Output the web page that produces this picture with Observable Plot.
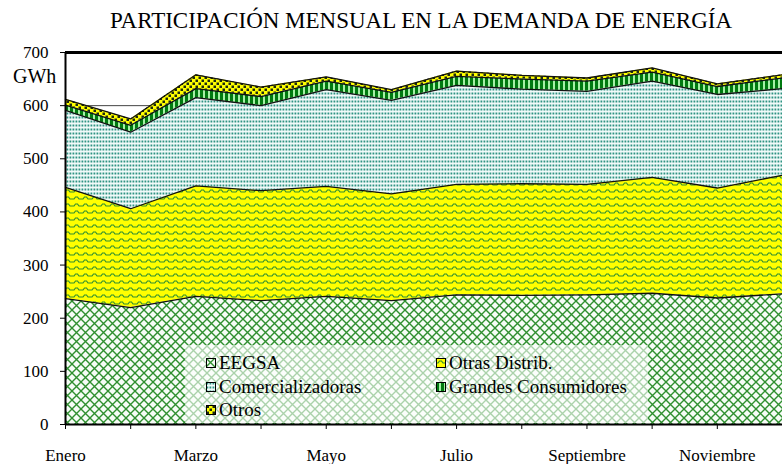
<!DOCTYPE html>
<html><head><meta charset="utf-8">
<script src="https://cdn.jsdelivr.net/npm/d3@7"></script>
<script src="https://cdn.jsdelivr.net/npm/@observablehq/plot@0.6"></script>
<style>
body{margin:0;background:#fff;font-family:"Liberation Serif","Times New Roman",serif;}
#wrap{position:relative;width:782px;height:464px;overflow:hidden;background:#fff;}
#title{height:40px;box-sizing:border-box;padding:8px 0 0 60px;text-align:center;font-size:23px;line-height:26px;white-space:nowrap;}
#unit{position:absolute;left:13px;top:64px;font-size:20px;line-height:24px;}
#legend{position:absolute;left:185px;top:345px;width:463px;height:78px;background:rgba(255,255,255,0.6);font-size:19px;}
.item{position:absolute;height:24px;line-height:24px;white-space:nowrap;display:flex;align-items:center;}
.item svg{margin-right:3px;}
</style></head>
<body>
<div id="wrap">
<div id="title">PARTICIPACIÓN MENSUAL EN LA DEMANDA DE ENERGÍA</div>
<div id="chart"></div>
<div id="unit">GWh</div>
<div id="legend"></div>
</div>
<script>
const months = ["Enero","Febrero","Marzo","Abril","Mayo","Junio","Julio","Agosto","Septiembre","Octubre","Noviembre","Diciembre"];
const seriesNames = ["EEGSA","Otras Distrib.","Comercializadoras","Grandes Consumidores","Otros"];
const eegsa   = [237,220,241,233,241,233,244,243,244,247,238,246];
const otras   = [209,186,208,207,207,201,208,210,208,218,207,223];
const comerc  = [145,144,166,160,182,176,186,178,175,181,176,163];
const grandes = [10,13,17,17,16,15,17,19,19,17,15,20];
const otros   = [11,12,26,18,8,5,10,7,6,8,5,6];
const yTicks = [0,100,200,300,400,500,600,700];

const seriesValues = [eegsa, otras, comerc, grandes, otros];
const patternIds = ["p-eegsa","p-otras","p-comerc","p-grandes","p-otros"];
const data = [];
seriesNames.forEach((s, k) => seriesValues[k].forEach((v, i) => data.push({series: s, m: i, v})));

const chart = Plot.plot({
  width: 782, height: 424,
  marginLeft: 65, marginRight: 0, marginTop: 12, marginBottom: 40,
  style: {fontFamily: "'Liberation Serif','Times New Roman',serif", color: "black", background: "transparent", overflow: "visible"},
  x: {type: "linear", domain: [0, 11]},
  y: {domain: [0, 700]},
  color: {type: "ordinal", domain: seriesNames, range: patternIds.map(id => `url(#${id})`)},
  marks: [
    Plot.ruleY(yTicks.filter(d => d > 0 && d < 700), {stroke: "#444", strokeWidth: 1}),
    Plot.areaY(data, {x: "m", y: "v", z: "series", fill: "series", order: seriesNames}),
    Plot.lineY(data, Plot.stackY2({x: "m", y: "v", z: "series", order: seriesNames, stroke: "#111", strokeWidth: 1.3})),
    Plot.ruleY([700], {stroke: "black", strokeWidth: 3}),
    Plot.ruleY([0], {stroke: "black", strokeWidth: 2}),
    Plot.ruleX([0], {stroke: "black", strokeWidth: 2}),
    Plot.axisY({ticks: yTicks, tickSize: 5, tickPadding: 12, fontSize: 17, label: null, tickFormat: d => String(d)}),
    Plot.axisX({ticks: d3.range(12), tickSize: 5, tickPadding: 19, fontSize: 17, label: null, tickFormat: i => i % 2 === 0 ? months[i] : ""})
  ]
});
document.getElementById("chart").appendChild(chart);

// pattern definitions
const defs = d3.select(chart).insert("defs", ":first-child");
function pat(id, w, h) {
  return defs.append("pattern").attr("id", id).attr("patternUnits", "userSpaceOnUse").attr("width", w).attr("height", h);
}
let p = pat("p-eegsa", 9, 9);
p.append("rect").attr("width", 9).attr("height", 9).attr("fill", "#f6fcf6");
p.append("path").attr("d", "M0,0L9,9M9,0L0,9").attr("stroke", "#2f8f2f").attr("stroke-width", 1.4).attr("fill", "none");
p = pat("p-otras", 9, 7);
p.append("rect").attr("width", 9).attr("height", 7).attr("fill", "#ffff00");
p.append("path").attr("d", "M0,5L2,5L3.5,3L5.5,3L7,5L9,5").attr("stroke", "#2f8f2f").attr("stroke-width", 1.2).attr("fill", "none");
p = pat("p-comerc", 3, 4);
p.append("rect").attr("width", 3).attr("height", 4).attr("fill", "#f2fbfa");
p.append("rect").attr("x", 0.5).attr("y", 0.5).attr("width", 1.8).attr("height", 2).attr("fill", "#2f9383");
p = pat("p-grandes", 5, 5);
p.append("rect").attr("width", 5).attr("height", 5).attr("fill", "#a6f0a6");
p.append("rect").attr("width", 3).attr("height", 5).attr("fill", "#007a10");
p = pat("p-otros", 6, 6);
p.append("rect").attr("width", 6).attr("height", 6).attr("fill", "#ffff00");
p.append("rect").attr("x", 0.5).attr("y", 0.5).attr("width", 2.5).attr("height", 2.5).attr("fill", "#1d2a10");
p.append("rect").attr("x", 3.5).attr("y", 3.5).attr("width", 2.5).attr("height", 2.5).attr("fill", "#1d2a10");

// legend
const legend = document.getElementById("legend");
const pos = [[21, 6], [251, 6], [21, 30], [251, 30], [21, 53]];
seriesNames.forEach((name, k) => {
  const it = document.createElement("div");
  it.className = "item";
  it.style.left = pos[k][0] + "px";
  it.style.top = pos[k][1] + "px";
  it.innerHTML = `<svg width="10" height="10"><rect x="0.5" y="0.5" width="9" height="9" fill="url(#${patternIds[k]})" stroke="#000" stroke-width="1"/></svg><span>${name}</span>`;
  legend.appendChild(it);
});
</script>
</body></html>
